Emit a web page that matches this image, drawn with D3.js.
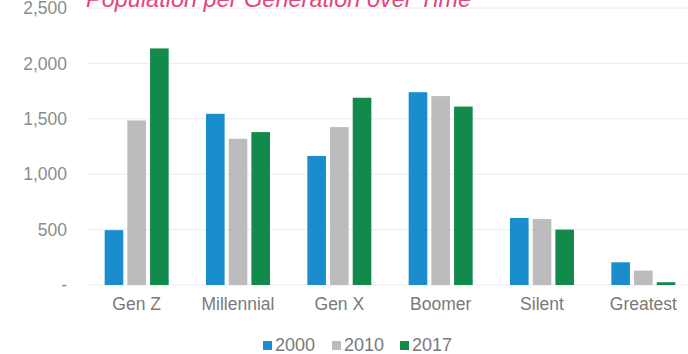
<!DOCTYPE html>
<html>
<head>
<meta charset="utf-8">
<script src="https://cdn.jsdelivr.net/npm/d3@7"></script>
<style>
  html, body { margin: 0; padding: 0; background: #fff; }
  svg { display: block; font-family: "Liberation Sans", Arial, sans-serif; }
</style>
</head>
<body>
<svg id="chart" width="688" height="354"></svg>
<script>
const categories = ["Gen Z", "Millennial", "Gen X", "Boomer", "Silent", "Greatest"];
const seriesNames = ["2000", "2010", "2017"];
const values2000 = [495, 1545, 1165, 1740, 605, 205];
const values2010 = [1485, 1320, 1425, 1705, 595, 130];
const values2017 = [2135, 1380, 1690, 1610, 500, 25];
const yTicks = [0, 500, 1000, 1500, 2000, 2500];
const yTickLabels = ["-", "500", "1,000", "1,500", "2,000", "2,500"];
const colors = ["#1a8dcf", "#bcbcbc", "#128a4c"];
const title = "Population per Generation over Time";

const seriesValues = [values2000, values2010, values2017];
const svg = d3.select("#chart");

const y = d3.scaleLinear().domain([0, 2500]).range([285, 8]);
const x0 = d3.scaleBand().domain(categories).range([86, 694]).padding(0);
const groupW = 64;
const x1 = d3.scaleBand().domain(seriesNames).range([0, groupW]).paddingInner(0.18).paddingOuter(0);
const groupOffset = (x0.bandwidth() - groupW) / 2;

// gridlines
svg.append("g").selectAll("line").data(yTicks).join("line")
  .attr("x1", 88).attr("x2", 688)
  .attr("y1", d => y(d)).attr("y2", d => y(d))
  .attr("stroke", "#ececec").attr("stroke-width", 1);

// y labels
svg.append("g").selectAll("text").data(yTicks).join("text")
  .attr("x", 67).attr("y", d => y(d)).attr("dy", "0.35em")
  .attr("text-anchor", "end")
  .attr("font-size", 17.5).attr("fill", "#8c8c8c")
  .text((d, i) => yTickLabels[i]);

// bars
const groups = svg.append("g").selectAll("g").data(categories).join("g")
  .attr("transform", d => `translate(${x0(d) + groupOffset},0)`);
groups.selectAll("rect")
  .data((c, ci) => seriesNames.map((s, si) => ({ s, si, v: seriesValues[si][ci] })))
  .join("rect")
  .attr("x", d => x1(d.s))
  .attr("width", x1.bandwidth())
  .attr("y", d => y(d.v))
  .attr("height", d => y(0) - y(d.v))
  .attr("fill", d => colors[d.si]);

// x labels
svg.append("g").selectAll("text").data(categories).join("text")
  .attr("x", d => x0(d) + x0.bandwidth() / 2)
  .attr("y", 310)
  .attr("text-anchor", "middle")
  .attr("font-size", 17.5).attr("fill", "#7a7a7a")
  .text(d => d);

// title
svg.append("text")
  .attr("x", 86).attr("y", 7)
  .attr("font-size", 23.5).attr("font-style", "italic")
  .attr("fill", "#e4457d")
  .text(title);

// legend
const legendX = [263, 332, 400];
const lg = svg.append("g").selectAll("g").data(seriesNames).join("g")
  .attr("transform", (d, i) => `translate(${legendX[i]},0)`);
lg.append("rect").attr("x", 0).attr("y", 341).attr("width", 9).attr("height", 9)
  .attr("fill", (d, i) => colors[i]);
lg.append("text").attr("x", 12).attr("y", 351)
  .attr("font-size", 18).attr("fill", "#7a7a7a")
  .text(d => d);
</script>
</body>
</html>
